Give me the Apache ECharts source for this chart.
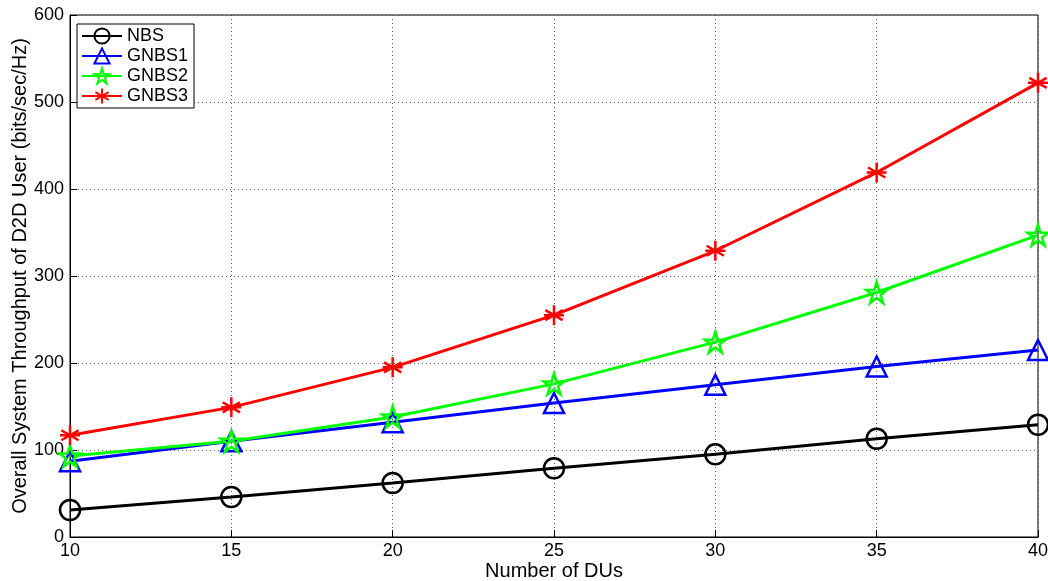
<!DOCTYPE html>
<html><head><meta charset="utf-8">
<script src="https://cdn.jsdelivr.net/npm/echarts@6/dist/echarts.min.js"></script>
<style>html,body{margin:0;padding:0;background:#fff}#c{width:1048px;height:581px}</style>
</head><body><div id="c"></div>
<script>
const categories = [10, 15, 20, 25, 30, 35, 40];
const nbs   = [31, 46, 62, 79, 95, 113, 129];
const gnbs1 = [87, 110, 132, 154, 175, 196, 215];
const gnbs2 = [93, 110, 138, 176, 224, 281, 347];
const gnbs3 = [117, 149, 195, 255, 329, 419, 522];
const yTicks = [0, 100, 200, 300, 400, 500, 600];

const starPath = 'path://M0,-1L0.2245,-0.309L0.951,-0.309L0.363,0.118L0.588,0.809L0,0.382L-0.588,0.809L-0.363,0.118L-0.951,-0.309L-0.2245,-0.309Z';
const asteriskPath = 'path://M0,-1L0,1M-0.866,-0.5L0.866,0.5M-0.866,0.5L0.866,-0.5M-1,0L1,0';

function mk(name, data, color, symbol, size) {
  return {
    name, type: 'line', data: categories.map((c, i) => [c, data[i]]),
    symbol, symbolSize: size, showAllSymbol: true,
    lineStyle: { color, width: 3 },
    itemStyle: { color: 'rgba(255,255,255,0)', borderColor: color, borderWidth: 2.5 },
    color: color,
    emphasis: { disabled: true }, z: 3
  };
}

const chart = echarts.init(document.getElementById('c'), null, { renderer: 'canvas' });
chart.setOption({
  animation: false,
  textStyle: { fontFamily: 'Liberation Sans, Arial, sans-serif' },
  grid: { left: 70, right: 10, top: 15, bottom: 44, containLabel: false, outerBoundsMode: 'none',
          show: true, borderColor: '#000', borderWidth: 1, backgroundColor: 'transparent' },
  legend: {
    left: 77, top: 24, orient: 'vertical',
    backgroundColor: '#fff', borderColor: '#000', borderWidth: 1,
    padding: [3, 6, 3, 4], itemGap: 2, itemWidth: 40, itemHeight: 19,
    textStyle: { fontSize: 18, color: '#000', fontFamily: 'Liberation Sans, Arial, sans-serif' },
    data: ['NBS', 'GNBS1', 'GNBS2', 'GNBS3']
  },
  xAxis: {
    type: 'value', min: 10, max: 40, interval: 5,
    name: 'Number of DUs', nameLocation: 'middle', nameGap: 24, nameMoveOverlap: false,
    nameTextStyle: { fontSize: 20, color: '#000' },
    axisLine: { show: true, lineStyle: { color: '#000' } },
    axisTick: { show: true, inside: true, length: 7, lineStyle: { color: '#000' } },
    axisLabel: { fontSize: 18, color: '#000', margin: 5 },
    splitLine: { show: true, lineStyle: { color: '#555', type: [1, 3], width: 1 } }
  },
  yAxis: {
    type: 'value', min: 0, max: 600, interval: 100,
    name: 'Overall System Throughput of D2D User (bits/sec/Hz)', nameLocation: 'middle', nameGap: 40, nameMoveOverlap: false,
    nameTextStyle: { fontSize: 20, color: '#000' },
    axisLine: { show: true, lineStyle: { color: '#000' } },
    axisTick: { show: true, inside: true, length: 7, lineStyle: { color: '#000' } },
    axisLabel: { fontSize: 18, color: '#000', margin: 6, formatter: v => yTicks.includes(v) ? String(v) : '' },
    splitLine: { show: true, lineStyle: { color: '#555', type: [1, 3], width: 1 } }
  },
  series: [
    mk('NBS', nbs, '#000000', 'circle', 20),
    mk('GNBS1', gnbs1, '#0000ff', 'triangle', 20),
    mk('GNBS2', gnbs2, '#00ff00', starPath, 21),
    mk('GNBS3', gnbs3, '#ff0000', asteriskPath, 20)
  ]
});
</script></body></html>
